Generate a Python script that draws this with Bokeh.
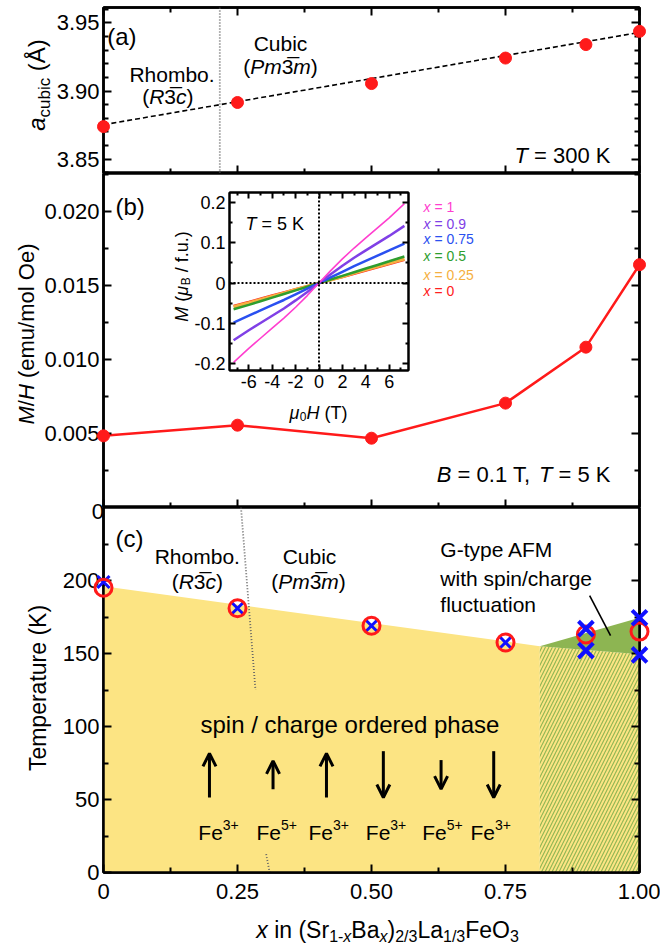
import numpy as np
from bokeh.plotting import figure
from bokeh.models import (Range1d, LinearAxis, FixedTicker, Label, Span, Arrow,
                          OpenHead, GridBox, ColumnDataSource, Div)
from bokeh.embed import file_html
from bokeh.resources import INLINE

FONT = "Liberation Sans"

# ---------------- data ----------------
x_comp = [0.0, 0.25, 0.50, 0.75, 0.90, 1.00]
a_cubic = [3.8739, 3.8916, 3.9055, 3.9242, 3.9341, 3.9438]
a_fit_x = [0.0, 1.0]
a_fit_y = [3.8753, 3.9430]
a_phase_boundary = 0.217

MH = [0.00484, 0.00556, 0.00468, 0.00705, 0.01083, 0.01640]

H_field = [-7.3, -6, -5, -4, -3, -2, -1, 0, 1, 2, 3, 4, 5, 6, 7.3]
M_x1 = [-0.197, -0.162, -0.137, -0.112, -0.087, -0.060, -0.031, 0, 0.031, 0.060, 0.087, 0.112, 0.137, 0.162, 0.197]
M_x09 = [-0.142, -0.117, -0.099, -0.081, -0.063, -0.043, -0.022, 0, 0.022, 0.043, 0.063, 0.081, 0.099, 0.117, 0.142]
M_x075 = [-0.098, -0.081, -0.068, -0.055, -0.042, -0.028, -0.014, 0, 0.014, 0.028, 0.042, 0.055, 0.068, 0.081, 0.098]
M_x05 = [-0.065, -0.054, -0.045, -0.036, -0.027, -0.018, -0.009, 0, 0.009, 0.018, 0.027, 0.036, 0.045, 0.054, 0.066]
M_x025 = [-0.059, -0.049, -0.041, -0.033, -0.025, -0.016, -0.008, 0, 0.008, 0.016, 0.025, 0.033, 0.041, 0.049, 0.060]
M_x0 = [-0.057, -0.047, -0.039, -0.031, -0.023, -0.015, -0.008, 0, 0.008, 0.015, 0.023, 0.031, 0.039, 0.047, 0.058]
legend_labels = ["1", "0.9", "0.75", "0.5", "0.25", "0"]
legend_colors = ["#ff3fcf", "#8040e6", "#2a50f0", "#2e9e2e", "#f5b041", "#ff2020"]

T_circle = [195, 181, 169, 157.5, 163, 165]
x_cross_small = [0.0, 0.25, 0.50, 0.75]
T_cross_small = [199, 181, 169, 157.5]
x_cross_big = [0.90, 0.90, 1.00, 1.00]
T_cross_big = [167, 152, 174.5, 149]
order_x = [0.0, 0.0, 0.814, 0.814]
order_T = [0, 196, 155, 0]
fluct_x = [0.814, 1.0, 1.0]
fluct_T = [155, 174.5, 149.5]
hatch_x = [0.814, 0.814, 1.0, 1.0]
hatch_T = [0, 155, 149.5, 0]
struct_up_x = [0.2565, 0.2835]
struct_up_T = [250, 125]
struct_lo_x = [0.3035, 0.3100]
struct_lo_T = [12.6, 0]
afm_pointer_x = [0.907, 0.946]
afm_pointer_T = [189.7, 162.3]
spin_x = [0.1977, 0.3163, 0.416, 0.5221, 0.6298, 0.728]
spin_T_from = [51.4, 57.1, 51.4, 83.1, 77.0, 83.1]
spin_T_to = [81.6, 76.5, 81.6, 51.4, 57.1, 51.4]
ion_valence = ["3+", "5+", "3+", "3+", "5+", "3+"]

x_ticks = [0, 0.25, 0.5, 0.75, 1]
x_tick_labels = ["0", "0.25", "0.50", "0.75", "1.00"]
x_minor = [0.125, 0.375, 0.625, 0.875]

# panel ranges
X_RANGE = (0.0, 1.0)
A_RANGE = (3.8395, 3.9613)
B_RANGE = (0.0, 0.02256)
C_RANGE = (0.0, 250.0)

# ---------------- page geometry (pixels) ----------------
FR_L, FR_R = 103, 639
A_TOP, A_BOT = 7, 173
B_TOP, B_BOT = 173, 507
C_TOP, C_BOT = 507, 872
O_L, O_R, O_T, O_B = 90, 652, 2, 940   # marker overlay canvas

# ---------------- helpers ----------------
ADV = {' ': 278, '(': 333, ')': 333, '+': 584, ',': 278, '-': 333, '.': 278, '/': 278, '=': 584,
       'A': 667, 'B': 667, 'C': 722, 'F': 611, 'G': 778, 'H': 722, 'K': 667, 'L': 556, 'M': 833,
       'O': 778, 'P': 667, 'R': 722, 'S': 667, 'T': 611, 'a': 556, 'b': 556, 'c': 500, 'd': 556,
       'e': 556, 'f': 278, 'g': 556, 'h': 556, 'i': 222, 'l': 222, 'm': 833, 'n': 556, 'o': 556,
       'p': 556, 'r': 333, 's': 500, 't': 278, 'u': 556, 'w': 722, 'x': 500, 'y': 500,
       '\u00c5': 667, '\u03bc': 576, '\u0305': 0}


def text_w(t, s):
    return sum(ADV.get(ch, 556) for ch in t) * s / 1000.0


def rich(fig, segs, sx, sy, anchor="left", angle=0.0, color="black"):
    ws = [text_w(t, s) for t, s, it, sh in segs]
    total = sum(ws)
    pos = {"left": 0.0, "center": -total / 2.0, "right": -total}[anchor]
    for (t, s, it, sh), w in zip(segs, ws):
        lead = len(t) - len(t.lstrip(" "))
        core = t.strip(" ")
        p0 = pos + lead * ADV[' '] * s / 1000.0
        if core:
            if angle == 0:
                x, y = sx + p0, sy + sh
            else:
                x, y = sx - sh, sy + p0
            fig.add_layout(Label(x=x, y=y, x_units="screen", y_units="screen", text=core,
                                 text_font=FONT, text_font_size=f"{s}px",
                                 text_font_style="italic" if it else "normal",
                                 text_color=color, text_align="left",
                                 text_baseline="alphabetic", angle=angle))
        pos += w


def keyval(v):
    return int(v) if float(v).is_integer() else v


def tune(ax, maj, mnr, lw):
    ax.major_tick_in = maj
    ax.major_tick_out = 0
    ax.minor_tick_in = mnr
    ax.minor_tick_out = 0
    ax.axis_line_width = lw
    ax.axis_line_color = "black"
    ax.major_tick_line_width = 2
    ax.minor_tick_line_width = 2
    ax.axis_label = None


def add_axis(p, side, ticks, minor, labels=None, size="22px", maj=8, mnr=5, lw=2.5, standoff=4):
    if labels is None:
        a = LinearAxis(ticker=FixedTicker(ticks=[], minor_ticks=list(ticks)))
        tune(a, 0, maj, lw)
        a.major_label_standoff = 0
        p.add_layout(a, side)
        b = LinearAxis(ticker=FixedTicker(ticks=[], minor_ticks=list(minor)))
        tune(b, 0, mnr, lw)
        b.axis_line_color = None
        b.major_label_standoff = 0
        p.add_layout(b, side)
    else:
        a = LinearAxis(ticker=FixedTicker(ticks=list(ticks), minor_ticks=list(minor)))
        tune(a, maj, mnr, lw)
        a.major_label_overrides = {keyval(v): l for v, l in zip(ticks, labels)}
        a.major_label_text_font = FONT
        a.major_label_text_font_size = size
        a.major_label_text_color = "black"
        a.major_label_standoff = standoff
        p.add_layout(a, side)


def make_fig(top_px, bot_px, yr, border_top, border_bottom):
    h = bot_px - top_px + border_top + border_bottom
    p = figure(width=660, height=h, x_range=Range1d(*X_RANGE), y_range=Range1d(*yr),
               output_backend="svg", toolbar_location=None,
               x_axis_location=None, y_axis_location=None,
               min_border_left=FR_L, min_border_right=660 - FR_R,
               min_border_top=border_top, min_border_bottom=border_bottom)
    p.grid.visible = False
    p.outline_line_color = "black"
    p.outline_line_width = 2.5
    return p


def stretch(lo, hi, px_lo, px_hi, new_lo, new_hi):
    # extend a value range mapped on [px_lo, px_hi] to the pixel span [new_lo, new_hi]
    k = (hi - lo) / (px_hi - px_lo)
    return (lo - (px_lo - new_lo) * k, hi + (new_hi - px_hi) * k)


# ---------------- panel (a) ----------------
pa = make_fig(A_TOP, A_BOT, A_RANGE, A_TOP, 0)
a_ticks = [3.85, 3.90, 3.95]
a_minor = [3.84, 3.86, 3.87, 3.88, 3.89, 3.91, 3.92, 3.93, 3.94, 3.96]
add_axis(pa, "below", x_ticks, x_minor)
add_axis(pa, "above", x_ticks, x_minor)
add_axis(pa, "left", a_ticks, a_minor, ["3.85", "3.90", "3.95"])
add_axis(pa, "right", a_ticks, a_minor)
pa.add_layout(Span(location=a_phase_boundary, dimension="height", line_color="#666666",
                   line_dash="1 2", line_width=1.8))
pa.line(a_fit_x, a_fit_y, line_color="black", line_dash="5 3", line_width=1.6)

rich(pa, [("(a)", 24, False, 0)], 3.7, 136.8)
rich(pa, [("Rhombo.", 21, False, 0)], 68.5, 98.8, "center")
rich(pa, [("(", 21, False, 0), ("R", 21, True, 0), ("3\u0305", 21, False, 0),
          ("c", 21, True, 0), (")", 21, False, 0)], 64.3, 76.8, "center")
rich(pa, [("Cubic", 21, False, 0)], 177, 130.5, "center")
rich(pa, [("(", 21, False, 0), ("Pm", 21, True, 0), ("3\u0305", 21, False, 0),
          ("m", 21, True, 0), (")", 21, False, 0)], 177, 107.5, "center")
rich(pa, [("T", 22, True, 0), (" = 300 K", 22, False, 0)], 507, 18.5, "right")

# ---------------- panel (b) ----------------
pb = make_fig(B_TOP, B_BOT, B_RANGE, 0, 0)
b_ticks = [0.005, 0.01, 0.015, 0.02]
b_minor = [0.0025, 0.0075, 0.0125, 0.0175, 0.0225]
add_axis(pb, "below", x_ticks, x_minor)
add_axis(pb, "left", b_ticks, b_minor, ["0.005", "0.010", "0.015", "0.020"])
add_axis(pb, "right", b_ticks, b_minor)
pb.line(x_comp, MH, line_color="#ff1a1a", line_width=2.5)

rich(pb, [("(b)", 24, False, 0)], 12, 300.8)
rich(pb, [("B", 22, True, 0), (" = 0.1 T, ", 22, False, 0), ("T", 22, True, 0),
          (" = 5 K", 22, False, 0)], 507, 33.5, "right")
legend_sy = [300.3, 283.7, 268.7, 252.0, 233.0, 216.3]
for lab, col, sy in zip(legend_labels, legend_colors, legend_sy):
    rich(pb, [("x", 14, True, 0), (" = " + lab, 14, False, 0)], 320, sy, color=col)
rich(pb, [("M", 18, True, 0), (" (", 18, False, 0), ("\u03bc", 18, True, 0),
          ("B", 12, False, -4), (" / f.u.)", 18, False, 0)], 78, 231, "center", angle=np.pi / 2)
rich(pb, [("\u03bc", 18, True, 0), ("0", 12, False, -4), ("H", 18, True, 0),
          (" (T)", 18, False, 0)], 215, 95, "center")

# ---------------- inset ----------------
pi_ = figure(width=253, height=230, x_range=Range1d(-7.65, 7.65), y_range=Range1d(-0.217, 0.2248),
             min_border_left=70, min_border_right=4, min_border_top=4, min_border_bottom=48,
             output_backend="svg", toolbar_location=None,
             x_axis_location=None, y_axis_location=None)
pi_.grid.visible = False
pi_.background_fill_alpha = 0
pi_.border_fill_alpha = 0
pi_.outline_line_color = "black"
pi_.outline_line_width = 2
ih_ticks = [-6, -4, -2, 0, 2, 4, 6]
ih_minor = [-7, -5, -3, -1, 1, 3, 5, 7]
im_ticks = [-0.2, -0.1, 0, 0.1, 0.2]
im_minor = [-0.15, -0.05, 0.05, 0.15]
add_axis(pi_, "below", ih_ticks, ih_minor, ["-6", "-4", "-2", "0", "2", "4", "6"],
         size="18px", maj=6, mnr=3, lw=2, standoff=4)
add_axis(pi_, "left", im_ticks, im_minor, ["-0.2", "-0.1", "0", "0.1", "0.2"],
         size="18px", maj=6, mnr=3, lw=2, standoff=4)
add_axis(pi_, "above", ih_ticks, ih_minor, maj=6, mnr=3, lw=2)
add_axis(pi_, "right", im_ticks, im_minor, maj=6, mnr=3, lw=2)
pi_.add_layout(Span(location=0, dimension="height", line_color="black", line_dash="2 2", line_width=2))
pi_.add_layout(Span(location=0, dimension="width", line_color="black", line_dash="2 2", line_width=2))
for M, col, lw in [(M_x0, legend_colors[5], 2.5), (M_x025, legend_colors[4], 3.2),
                   (M_x05, legend_colors[3], 2.5), (M_x075, legend_colors[2], 2.5),
                   (M_x09, legend_colors[1], 2.5), (M_x1, legend_colors[0], 1.6)]:
    pi_.line(H_field, M, line_color=col, line_width=lw)
rich(pi_, [("T", 18, True, 0), (" = 5 K", 18, False, 0)], 16, 147)

# ---------------- panel (c) ----------------
pc = make_fig(C_TOP, C_BOT, C_RANGE, 0, 947 - C_BOT)
c_ticks = [0, 50, 100, 150, 200]
c_minor = [25, 75, 125, 175, 225]
add_axis(pc, "below", x_ticks, x_minor, x_tick_labels, standoff=11)
add_axis(pc, "left", c_ticks, c_minor, ["0", "50", "100", "150", "200"])
add_axis(pc, "right", c_ticks, c_minor)

YEL = "#fce483"
GRN = "#8db552"
pc.patch(order_x, order_T, fill_color=YEL, line_color=None)
pc.patch(hatch_x, hatch_T, fill_color=YEL, line_color=None, hatch_pattern="/",
         hatch_color=GRN, hatch_scale=7, hatch_weight=1.1)
pc.patch(fluct_x, fluct_T, fill_color=GRN, line_color=None)
pc.line(struct_up_x, struct_up_T, line_color="#666666", line_dash="1 2", line_width=1.8)
pc.line(struct_lo_x, struct_lo_T, line_color="#666666", line_dash="1 2", line_width=1.8)
pc.line(afm_pointer_x, afm_pointer_T, line_color="black", line_width=1.6)

spin_src = ColumnDataSource(dict(x=spin_x, y0=spin_T_from, y1=spin_T_to))
pc.add_layout(Arrow(end=OpenHead(size=13, line_width=3, line_color="black"),
                    x_start="x", y_start="y0", x_end="x", y_end="y1", source=spin_src,
                    line_width=3, line_color="black"))

ion_sx = [94.8, 152.9, 205.0, 262.3, 318.7, 367.0]
for sx, v in zip(ion_sx, ion_valence):
    rich(pc, [("Fe", 21, False, 0), (v, 14, False, 8)], sx, 40)

rich(pc, [("(c)", 24, False, 0)], 12, 334.1)
rich(pc, [("Rhombo.", 21, False, 0)], 93.8, 316.2, "center")
rich(pc, [("(", 21, False, 0), ("R", 21, True, 0), ("3\u0305", 21, False, 0),
          ("c", 21, True, 0), (")", 21, False, 0)], 93.8, 291.5, "center")
rich(pc, [("Cubic", 21, False, 0)], 206, 316.2, "center")
rich(pc, [("(", 21, False, 0), ("Pm", 21, True, 0), ("3\u0305", 21, False, 0),
          ("m", 21, True, 0), (")", 21, False, 0)], 205, 291.5, "center")
rich(pc, [("G-type AFM", 21, False, 0)], 336.8, 322.8)
rich(pc, [("with spin/charge", 21, False, 0)], 336.8, 294.5)
rich(pc, [("fluctuation", 21, False, 0)], 336.8, 267.8)
rich(pc, [("spin / charge ordered phase", 24, False, 0)], 246.4, 148, "center")

# ---------------- marker layer (unclipped at the panel edges) ----------------
po = figure(width=O_R - O_L, height=O_B - O_T,
            x_range=Range1d(*stretch(X_RANGE[0], X_RANGE[1], FR_L, FR_R, O_L, O_R)),
            y_range=Range1d(*stretch(C_RANGE[0], C_RANGE[1], 947 - C_BOT, 947 - C_TOP,
                                     947 - O_B, 947 - O_T)),
            output_backend="svg", toolbar_location=None,
            x_axis_location=None, y_axis_location=None,
            min_border_left=0, min_border_right=0, min_border_top=0, min_border_bottom=0)
po.extra_y_ranges = {
    "a": Range1d(*stretch(A_RANGE[0], A_RANGE[1], 947 - A_BOT, 947 - A_TOP, 947 - O_B, 947 - O_T)),
    "b": Range1d(*stretch(B_RANGE[0], B_RANGE[1], 947 - B_BOT, 947 - B_TOP, 947 - O_B, 947 - O_T)),
}
po.grid.visible = False
po.outline_line_color = None
po.background_fill_alpha = 0
po.border_fill_alpha = 0
po.scatter(x_comp, a_cubic, y_range_name="a", size=12, fill_color="#ff1a1a", line_color="#ff1a1a")
po.scatter(x_comp, MH, y_range_name="b", size=12, fill_color="#ff1a1a", line_color="#ff1a1a")
po.scatter(x_cross_small, T_cross_small, marker="x", size=17, line_color="#1010ff", line_width=3)
po.scatter(x_comp, T_circle, marker="circle", size=17, fill_color=None, line_color="#ff1a1a",
           line_width=3)
po.scatter(x_cross_big, T_cross_big, marker="x", size=21, line_color="#1010ff", line_width=4)

# ---------------- outer texts (HTML overlay) ----------------
def sub(t, s):
    return f'<span style="font-size:{s}px;position:relative;top:{0.27 * s:.1f}px">{t}</span>'


def place(cx, cy, inner, size, rotate=False, right=False):
    tx = "-100%" if right else "-50%"
    tr = f"translate({tx},-50%)" + (" rotate(-90deg)" if rotate else "")
    return (f'<span style="position:absolute;left:{cx}px;top:{cy}px;transform:{tr};'
            f'white-space:nowrap;font-size:{size}px;line-height:1;">{inner}</span>')


titles = (
    place(31.6, 80, '<i>a</i>' + sub('cubic', 17) + ' (\u00c5)', 24, True)
    + place(21.7, 329, '<i>M</i>/<i>H</i> (emu/mol Oe)', 22, True)
    + place(99, B_BOT, '0', 22, right=True)
    + place(33.3, 683, 'Temperature (K)', 23, True)
    + place(382.6, 925, '<i>x</i> in (Sr' + sub('1-<i>x</i>', 16) + 'Ba' + sub('<i>x</i>', 16)
            + ')' + sub('2/3', 16) + 'La' + sub('1/3', 16) + 'FeO' + sub('3', 16), 23)
)
overlay = Div(text=('<div style="position:relative;width:660px;height:947px;'
                    "font-family:'Liberation Sans',Arial,sans-serif;color:#000;\">"
                    + titles + '</div>'), width=660, height=947)

# grid lines (px): cols 0,90,159,412,652,660 ; rows 0,2,173,188,418,507,940,947
layout = GridBox(children=[(pa, 0, 0, 2, 5), (pb, 2, 0, 3, 5), (pc, 5, 0, 2, 5),
                           (pi_, 3, 2, 1, 1), (po, 1, 1, 5, 3), (overlay, 0, 0, 7, 5)],
                 rows=["2px", "171px", "15px", "230px", "89px", "433px", "7px"],
                 cols=["90px", "69px", "253px", "240px", "8px"], spacing=0)

open("out.html", "w").write(file_html(layout, INLINE))
